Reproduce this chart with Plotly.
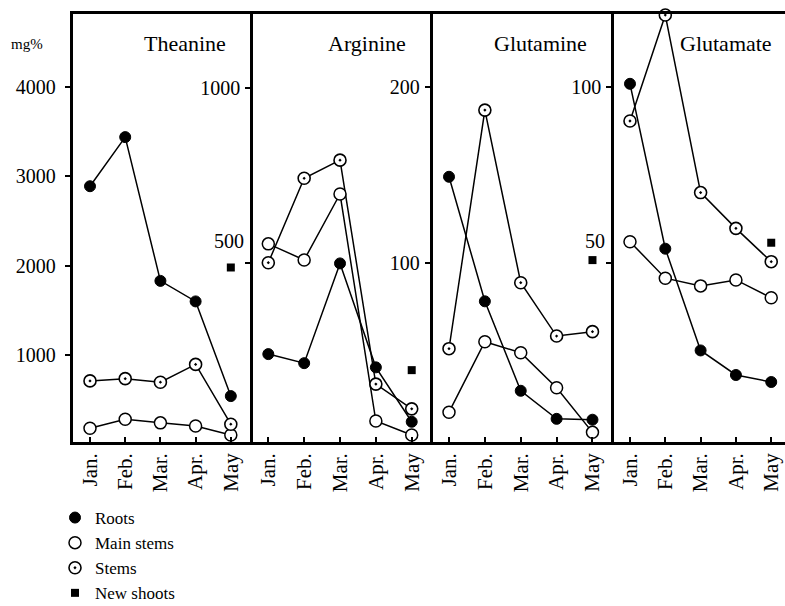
import plotly.graph_objects as go

months = ["Jan.", "Feb.", "Mar.", "Apr.", "May"]
panel_names = ["Theanine", "Arginine", "Glutamine", "Glutamate"]

theanine_roots = [2890, 3440, 1830, 1600, 540]
theanine_main = [180, 280, 240, 205, 105]
theanine_stems = [710, 735, 695, 895, 225]
theanine_shoots = [1980]

arginine_roots = [238, 212, 498, 200, 44]
arginine_main = [554, 508, 697, 46, 6]
arginine_stems = [500, 742, 794, 152, 81]
arginine_shoots = [192]

glutamine_roots = [149, 78, 27, 11, 10.5]
glutamine_main = [14.8, 55, 48.7, 28.7, 3.3]
glutamine_stems = [51, 187, 88.6, 58.2, 60.7]
glutamine_shoots = [101.5]

glutamate_roots = [101, 54, 25, 18, 16]
glutamate_main = [56, 45.6, 43.4, 45.1, 40]
glutamate_stems = [90.4, 120.6, 70, 59.8, 50.3]
glutamate_shoots = [55.7]

tick_values = [[1000, 2000, 3000, 4000], [500, 1000], [100, 200], [50, 100]]

data = [
    (theanine_roots, theanine_main, theanine_stems, theanine_shoots),
    (arginine_roots, arginine_main, arginine_stems, arginine_shoots),
    (glutamine_roots, glutamine_main, glutamine_stems, glutamine_shoots),
    (glutamate_roots, glutamate_main, glutamate_stems, glutamate_shoots),
]

FONT = "Liberation Serif, Times New Roman, serif"
W, H = 785, 606
L = 72
T = 14
PLOT_BOTTOM = 442
B = H - PLOT_BOTTOM
PW = W - L
PH = PLOT_BOTTOM - T


def px(xpage):
    return (xpage - L) / PW


def py(ypage):
    return 1 - (ypage - T) / PH


borders = [72.5, 253, 432.5, 614, 785]
x_ranges = [[-0.497, 4.63], [-0.427, 4.58], [-0.46, 4.6], [-0.453, 4.39]]
y_ranges = [[25.8, 4818.6], [-14, 1213], [-2.2, 241.8], [-1.1, 120.9]]
hidden_label = [None, 500, None, 50]
label_standoff = [5, 1, 1, 1]

fig = go.Figure()
xs = list(range(len(months)))

styles = [
    ("Roots", dict(symbol="circle", size=11, color="black", line=dict(color="black", width=1))),
    ("Main stems", dict(symbol="circle", size=12, color="white", line=dict(color="black", width=1.5))),
    ("Stems", dict(symbol="circle-dot", size=12, color="white", line=dict(color="black", width=1.6))),
]

layout_axes = {}
annotations = []
for i in range(4):
    sfx = "" if i == 0 else str(i + 1)
    xa, ya = "x" + sfx, "y" + sfx
    roots, main, stems, shoots = data[i]
    for (name, mk), vals in zip(styles, [roots, main, stems]):
        fig.add_trace(go.Scatter(x=xs, y=vals, mode="lines",
                                 line=dict(color="black", width=1.5),
                                 showlegend=False, xaxis=xa, yaxis=ya,
                                 cliponaxis=False, hoverinfo="skip"))
    for (name, mk), vals in zip(styles, [roots, main, stems]):
        fig.add_trace(go.Scatter(x=xs, y=vals, mode="markers", marker=mk,
                                 name=name, legendgroup=name,
                                 showlegend=(i == 0), xaxis=xa, yaxis=ya,
                                 cliponaxis=False))
    fig.add_trace(go.Scatter(x=[xs[-1]], y=shoots, mode="markers",
                             marker=dict(symbol="square", size=8, color="black"),
                             name="New shoots", legendgroup="shoots",
                             showlegend=(i == 0), xaxis=xa, yaxis=ya,
                             cliponaxis=False))

    d0 = px(borders[i])
    d1 = px(borders[i + 1])
    tv = tick_values[i]
    tt = ["" if v == hidden_label[i] else str(v) for v in tv]
    layout_axes["xaxis" + sfx] = dict(
        domain=[max(0, d0), min(1, d1)], range=x_ranges[i], anchor=ya,
        tickvals=xs, ticktext=months, tickangle=-90,
        ticks="inside", ticklen=5, tickwidth=1.5, tickcolor="black",
        showline=True, linecolor="black", linewidth=2.5, mirror=True,
        showgrid=False, zeroline=False, automargin=False,
        tickfont=dict(family=FONT, size=21, color="black"),
    )
    layout_axes["yaxis" + sfx] = dict(
        domain=[0, 1], range=y_ranges[i], anchor=xa,
        tickvals=tv, ticktext=tt,
        ticks="outside", ticklen=5, tickwidth=1.5, tickcolor="black",
        ticklabelstandoff=label_standoff[i],
        showline=True, linecolor="black", linewidth=2.5, mirror=False,
        showgrid=False, zeroline=False, automargin=False,
        tickfont=dict(family=FONT, size=20, color="black"),
    )
    if hidden_label[i] is not None:
        annotations.append(dict(
            x=0, xref=xa + " domain", y=hidden_label[i], yref=ya,
            text=str(hidden_label[i]), showarrow=False, xanchor="right",
            yanchor="middle", xshift=-7, yshift=22,
            font=dict(family=FONT, size=20, color="black")))

title_centers = [185, 367, 540, 726]
for name, cx in zip(panel_names, title_centers):
    annotations.append(dict(
        x=px(cx), xref="paper", y=py(44), yref="paper",
        text=name, showarrow=False, xanchor="center", yanchor="middle",
        font=dict(family=FONT, size=22, color="black")))

annotations.append(dict(
    x=px(9), xref="paper", y=py(44), yref="paper",
    text="mg%", showarrow=False, xanchor="left", yanchor="middle",
    font=dict(family=FONT, size=15, color="black")))

fig.update_layout(
    width=W, height=H,
    margin=dict(l=L, r=0, t=T, b=B, pad=0, autoexpand=False),
    paper_bgcolor="white", plot_bgcolor="white",
    annotations=annotations,
    showlegend=True,
    legend=dict(
        x=px(55), y=py(500), xanchor="left", yanchor="top",
        font=dict(family=FONT, size=17, color="black"),
        bgcolor="rgba(0,0,0,0)", borderwidth=0,
        tracegroupgap=0, itemwidth=30,
    ),
    **layout_axes,
)

fig.write_html(
    "out.html",
    config={"displayModeBar": False},
    post_script="document.body.style.margin='0';document.body.style.overflow='hidden';",
)
